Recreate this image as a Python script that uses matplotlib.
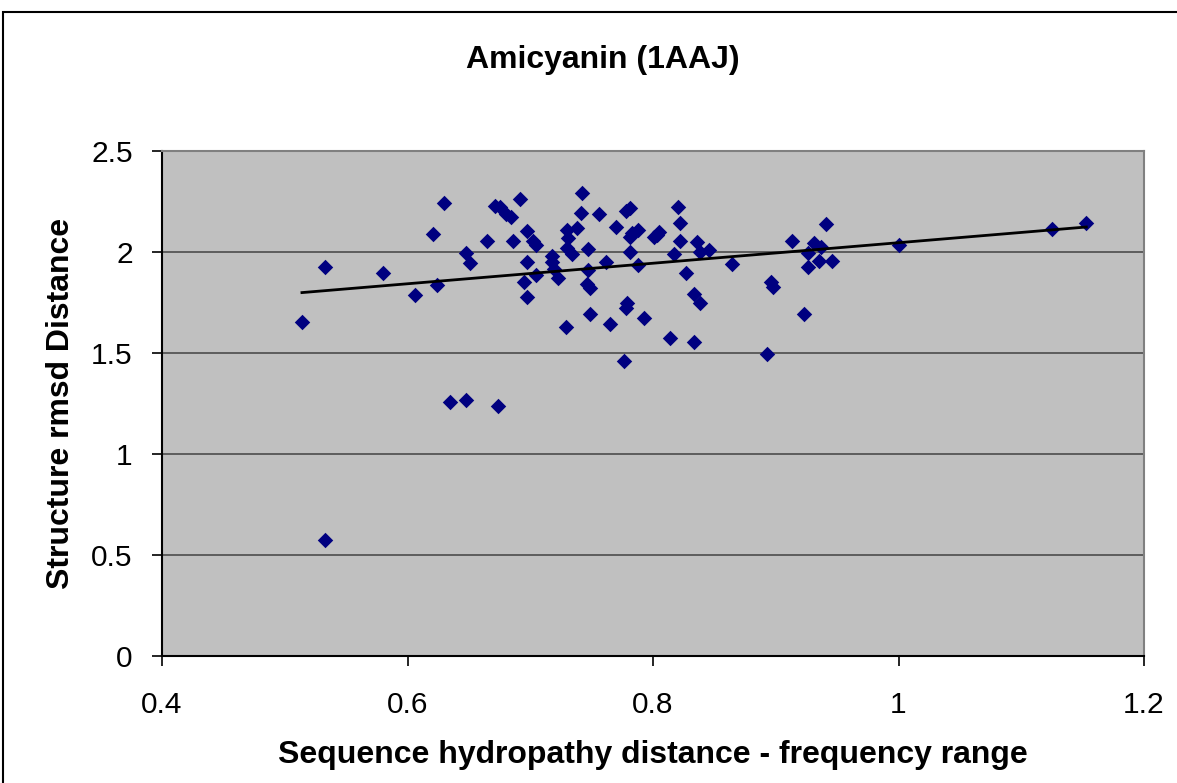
import matplotlib
matplotlib.use("Agg")
import matplotlib.pyplot as plt
from matplotlib.patches import Rectangle
import numpy as np

plt.rcParams["font.family"] = ["Liberation Sans", "DejaVu Sans"]

# values
seq_dist = [0.514, 0.533, 0.580, 0.606, 0.621, 0.624, 0.630, 0.648, 0.651, 0.665,
            0.671, 0.675, 0.680, 0.684, 0.692, 0.686, 0.697, 0.702, 0.705, 0.697,
            0.705, 0.695, 0.697, 0.718, 0.718, 0.719, 0.723, 0.729, 0.730, 0.731,
            0.730, 0.734, 0.738, 0.742, 0.741, 0.756, 0.747, 0.762, 0.747, 0.746,
            0.749, 0.749, 0.765, 0.770, 0.778, 0.781, 0.781, 0.783, 0.788, 0.781,
            0.788, 0.779, 0.778, 0.793, 0.776, 0.801, 0.805, 0.803, 0.814, 0.820,
            0.822, 0.822, 0.817, 0.827, 0.833, 0.838, 0.833, 0.836, 0.838, 0.846,
            0.864, 0.893, 0.896, 0.898, 0.913, 0.923, 0.926, 0.926, 0.931, 0.935,
            0.937, 0.941, 0.946, 1.000, 1.125, 1.153, 0.635, 0.648, 0.674, 0.533]
rmsd = [1.652, 1.925, 1.898, 1.789, 2.087, 1.838, 2.244, 1.993, 1.947, 2.056,
        2.228, 2.224, 2.188, 2.172, 2.264, 2.056, 2.106, 2.056, 2.035, 1.949,
        1.888, 1.850, 1.779, 1.980, 1.952, 1.914, 1.870, 1.630, 2.109, 2.068,
        2.018, 1.989, 2.117, 2.292, 2.195, 2.186, 2.016, 1.949, 1.911, 1.842,
        1.820, 1.692, 1.642, 2.125, 2.205, 2.216, 2.076, 2.093, 2.107, 1.999,
        1.937, 1.746, 1.721, 1.671, 1.462, 2.076, 2.101, 2.084, 1.573, 2.224,
        2.145, 2.056, 1.990, 1.898, 1.790, 1.749, 1.553, 2.050, 2.002, 2.010,
        1.940, 1.495, 1.850, 1.825, 2.056, 1.692, 1.926, 1.997, 2.043, 1.957,
        2.026, 2.137, 1.957, 2.035, 2.114, 2.145, 1.256, 1.266, 1.236, 0.573]

x_ticks = [0.4, 0.6, 0.8, 1.0, 1.2]
x_tick_labels = ["0.4", "0.6", "0.8", "1", "1.2"]
y_ticks = [0, 0.5, 1, 1.5, 2, 2.5]
y_tick_labels = ["0", "0.5", "1", "1.5", "2", "2.5"]

fig = plt.figure(figsize=(11.77, 7.83), dpi=100)
ax = fig.add_axes([162 / 1177, 1 - 656 / 783, (1144 - 162) / 1177, (656 - 151) / 783])
ax.set_facecolor("#c0c0c0")

for yv in y_ticks[1:-1]:
    ax.axhline(yv, color="#555555", linewidth=1.3, zorder=1)

ax.scatter(seq_dist, rmsd, marker="D", s=62, color="#000080", zorder=3, linewidths=0)

# linear trend line (like Excel's)
xs = np.array(seq_dist)
k, b = np.polyfit(xs, np.array(rmsd), 1)
xl = np.array([xs.min(), xs.max()])
ax.plot(xl, k * xl + b, color="black", linewidth=2, zorder=4)

ax.set_xlim(0.4, 1.2)
ax.set_ylim(0, 2.5)
ax.set_xticks(x_ticks)
ax.set_xticklabels(x_tick_labels)
ax.set_yticks(y_ticks)
ax.set_yticklabels(y_tick_labels)
ax.tick_params(labelsize=21.5, length=7, width=1.2, color="black")
ax.tick_params(axis="x", pad=18)
ax.tick_params(axis="y", pad=14)

ax.spines["left"].set_color("black")
ax.spines["bottom"].set_color("black")
ax.spines["left"].set_linewidth(1.5)
ax.spines["bottom"].set_linewidth(1.5)
ax.spines["top"].set_color("#808080")
ax.spines["right"].set_color("#808080")
ax.spines["top"].set_linewidth(1.5)
ax.spines["right"].set_linewidth(1.5)

ax.set_xlabel("Sequence hydropathy distance - frequency range", fontsize=23,
              fontweight="bold", labelpad=15)
ax.set_ylabel("Structure rmsd Distance", fontsize=23, fontweight="bold", labelpad=11)
fig.text(603 / 1177, 1 - 60 / 783, "Amicyanin (1AAJ)",
         ha="center", va="center", fontsize=23, fontweight="bold")

# outer chart border, running off the right and bottom edges
fig.patches.append(Rectangle((3 / 1177, -0.5), 2, 1.5 - 12 / 783, transform=fig.transFigure,
                             fill=False, edgecolor="black", linewidth=1.5))

fig.savefig("out.png", dpi=100)
